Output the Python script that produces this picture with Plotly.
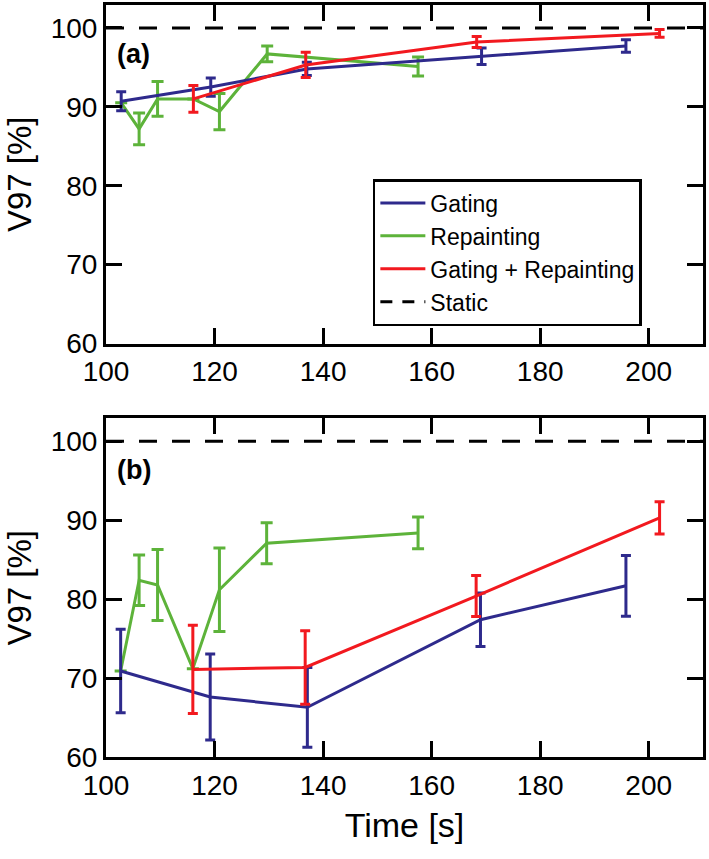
import plotly.graph_objects as go
from plotly.subplots import make_subplots

# ---------------- data ----------------
# Panel (a)
a_gating_t = [102.8, 119.3, 137.0, 169.2, 195.8]
a_gating_v = [90.7, 92.5, 94.8, 96.4, 97.7]
a_gating_e = [1.2, 1.15, 0.85, 1.05, 0.8]

a_repaint_t = [102.8, 106.1, 109.5, 116.1, 120.9, 129.7, 157.5]
a_repaint_v = [90.5, 87.2, 91.0, 91.0, 89.4, 96.7, 95.1]
a_repaint_e = [None, 2.0, 2.2, None, 2.3, 1.0, 1.2]   # None: hidden behind other bars

a_both_t = [116.1, 136.8, 168.3, 202.0]
a_both_v = [91.0, 95.3, 98.2, 99.3]
a_both_e = [1.7, 1.6, 0.7, 0.5]

# Panel (b)
b_gating_t = [102.7, 119.2, 137.1, 169.0, 195.8]
b_gating_v = [70.9, 67.6, 66.3, 77.4, 81.7]
b_gating_e = [5.3, 5.45, 5.05, 3.4, 3.85]

b_repaint_t = [102.7, 106.1, 109.5, 116.0, 120.9, 129.6, 157.5]
b_repaint_v = [70.9, 82.4, 81.8, 71.2, 81.2, 87.1, 88.4]
b_repaint_e = [None, 3.2, 4.5, None, 5.3, 2.6, 2.0]

b_both_t = [116.0, 136.7, 168.2, 202.0]
b_both_v = [71.1, 71.35, 80.4, 90.3]
b_both_e = [5.6, 4.65, 2.6, 2.05]

static_value = 100
x_range = [100, 210]
y_range = [60, 102.9]
x_ticks = [100, 120, 140, 160, 180, 200]
y_ticks = [60, 70, 80, 90, 100]
series_names = ["Gating", "Repainting", "Gating + Repainting", "Static"]
panel_labels = ["(a)", "(b)"]

# ---------------- style ----------------
BLUE = "#2E2A8C"
GREEN = "#5DB33A"
RED = "#F2191F"
FONT = "Liberation Sans, Arial, sans-serif"

fig = make_subplots(rows=2, cols=1, vertical_spacing=0.0997)

panels = [
    (1, a_gating_t, a_gating_v, a_gating_e, a_repaint_t, a_repaint_v, a_repaint_e,
     a_both_t, a_both_v, a_both_e),
    (2, b_gating_t, b_gating_v, b_gating_e, b_repaint_t, b_repaint_v, b_repaint_e,
     b_both_t, b_both_v, b_both_e),
]


def add_series(row, t, v, e, color, cap):
    fig.add_trace(go.Scatter(
        x=t, y=v, mode="lines", showlegend=False,
        line=dict(color=color, width=3),
        error_y=dict(type="data", array=e, visible=True, color=color,
                     thickness=3, width=cap),
    ), row=row, col=1)


for (row, gt, gv, ge, rt, rv, re_, bt, bv, be) in panels:
    fig.add_trace(go.Scatter(
        x=x_range, y=[static_value, static_value], mode="lines", showlegend=False,
        line=dict(color="black", width=3, dash="18px,15px"),
    ), row=row, col=1)
    add_series(row, rt, rv, re_, GREEN, 6)
    add_series(row, gt, gv, ge, BLUE, 5)
    add_series(row, bt, bv, be, RED, 5)

# legend-only entries
legend_styles = [
    dict(color=BLUE, width=3),
    dict(color=GREEN, width=3),
    dict(color=RED, width=3),
    dict(color="black", width=3, dash="12px,10px"),
]
for name, ls in zip(series_names, legend_styles):
    fig.add_trace(go.Scatter(x=[None], y=[None], mode="lines", name=name,
                             line=ls, showlegend=True), row=1, col=1)

axis_common = dict(
    range=x_range, tickvals=x_ticks, ticks="inside", ticklen=16, tickwidth=3,
    tickcolor="black", showline=True, linecolor="black", linewidth=3,
    mirror="ticks", showgrid=False, zeroline=False,
    tickfont=dict(family=FONT, size=28, color="black"),
)
yaxis_common = dict(
    range=y_range, tickvals=y_ticks, ticks="inside", ticklen=16, tickwidth=3,
    tickcolor="black", showline=True, linecolor="black", linewidth=3,
    mirror="ticks", showgrid=False, zeroline=False,
    tickfont=dict(family=FONT, size=28, color="black"),
    title=dict(text="V97 [%]", font=dict(family=FONT, size=33, color="black"),
               standoff=10),
)
fig.update_xaxes(**axis_common, ticklabelstandoff=1)
fig.update_yaxes(**yaxis_common)
fig.update_xaxes(title=dict(text="Time [s]", font=dict(family=FONT, size=34, color="black"),
                            standoff=14), row=2, col=1)

fig.update_layout(
    width=709, height=859,
    margin=dict(l=106, r=6, t=5, b=102, autoexpand=False),
    paper_bgcolor="white", plot_bgcolor="white",
    font=dict(family=FONT, color="black"),
    legend=dict(
        x=0.447, y=0.7686, xref="paper", yref="paper", xanchor="left", yanchor="top",
        bgcolor="white", bordercolor="black", borderwidth=2.5,
        font=dict(family=FONT, size=23, color="black"),
        tracegroupgap=0, itemwidth=45,
    ),
)

for i, lab in enumerate(panel_labels):
    xref = "x domain" if i == 0 else "x2 domain"
    yref = "y domain" if i == 0 else "y2 domain"
    fig.add_annotation(
        text="<b>" + lab + "</b>", x=0.015, y=0.855 if i == 0 else 0.847,
        xref=xref, yref=yref, xanchor="left", yanchor="middle", showarrow=False,
        font=dict(family=FONT, size=27, color="black"),
    )

fig.write_html("out.html", config={"displayModeBar": False},
               post_script="document.body.style.margin='0px';")
